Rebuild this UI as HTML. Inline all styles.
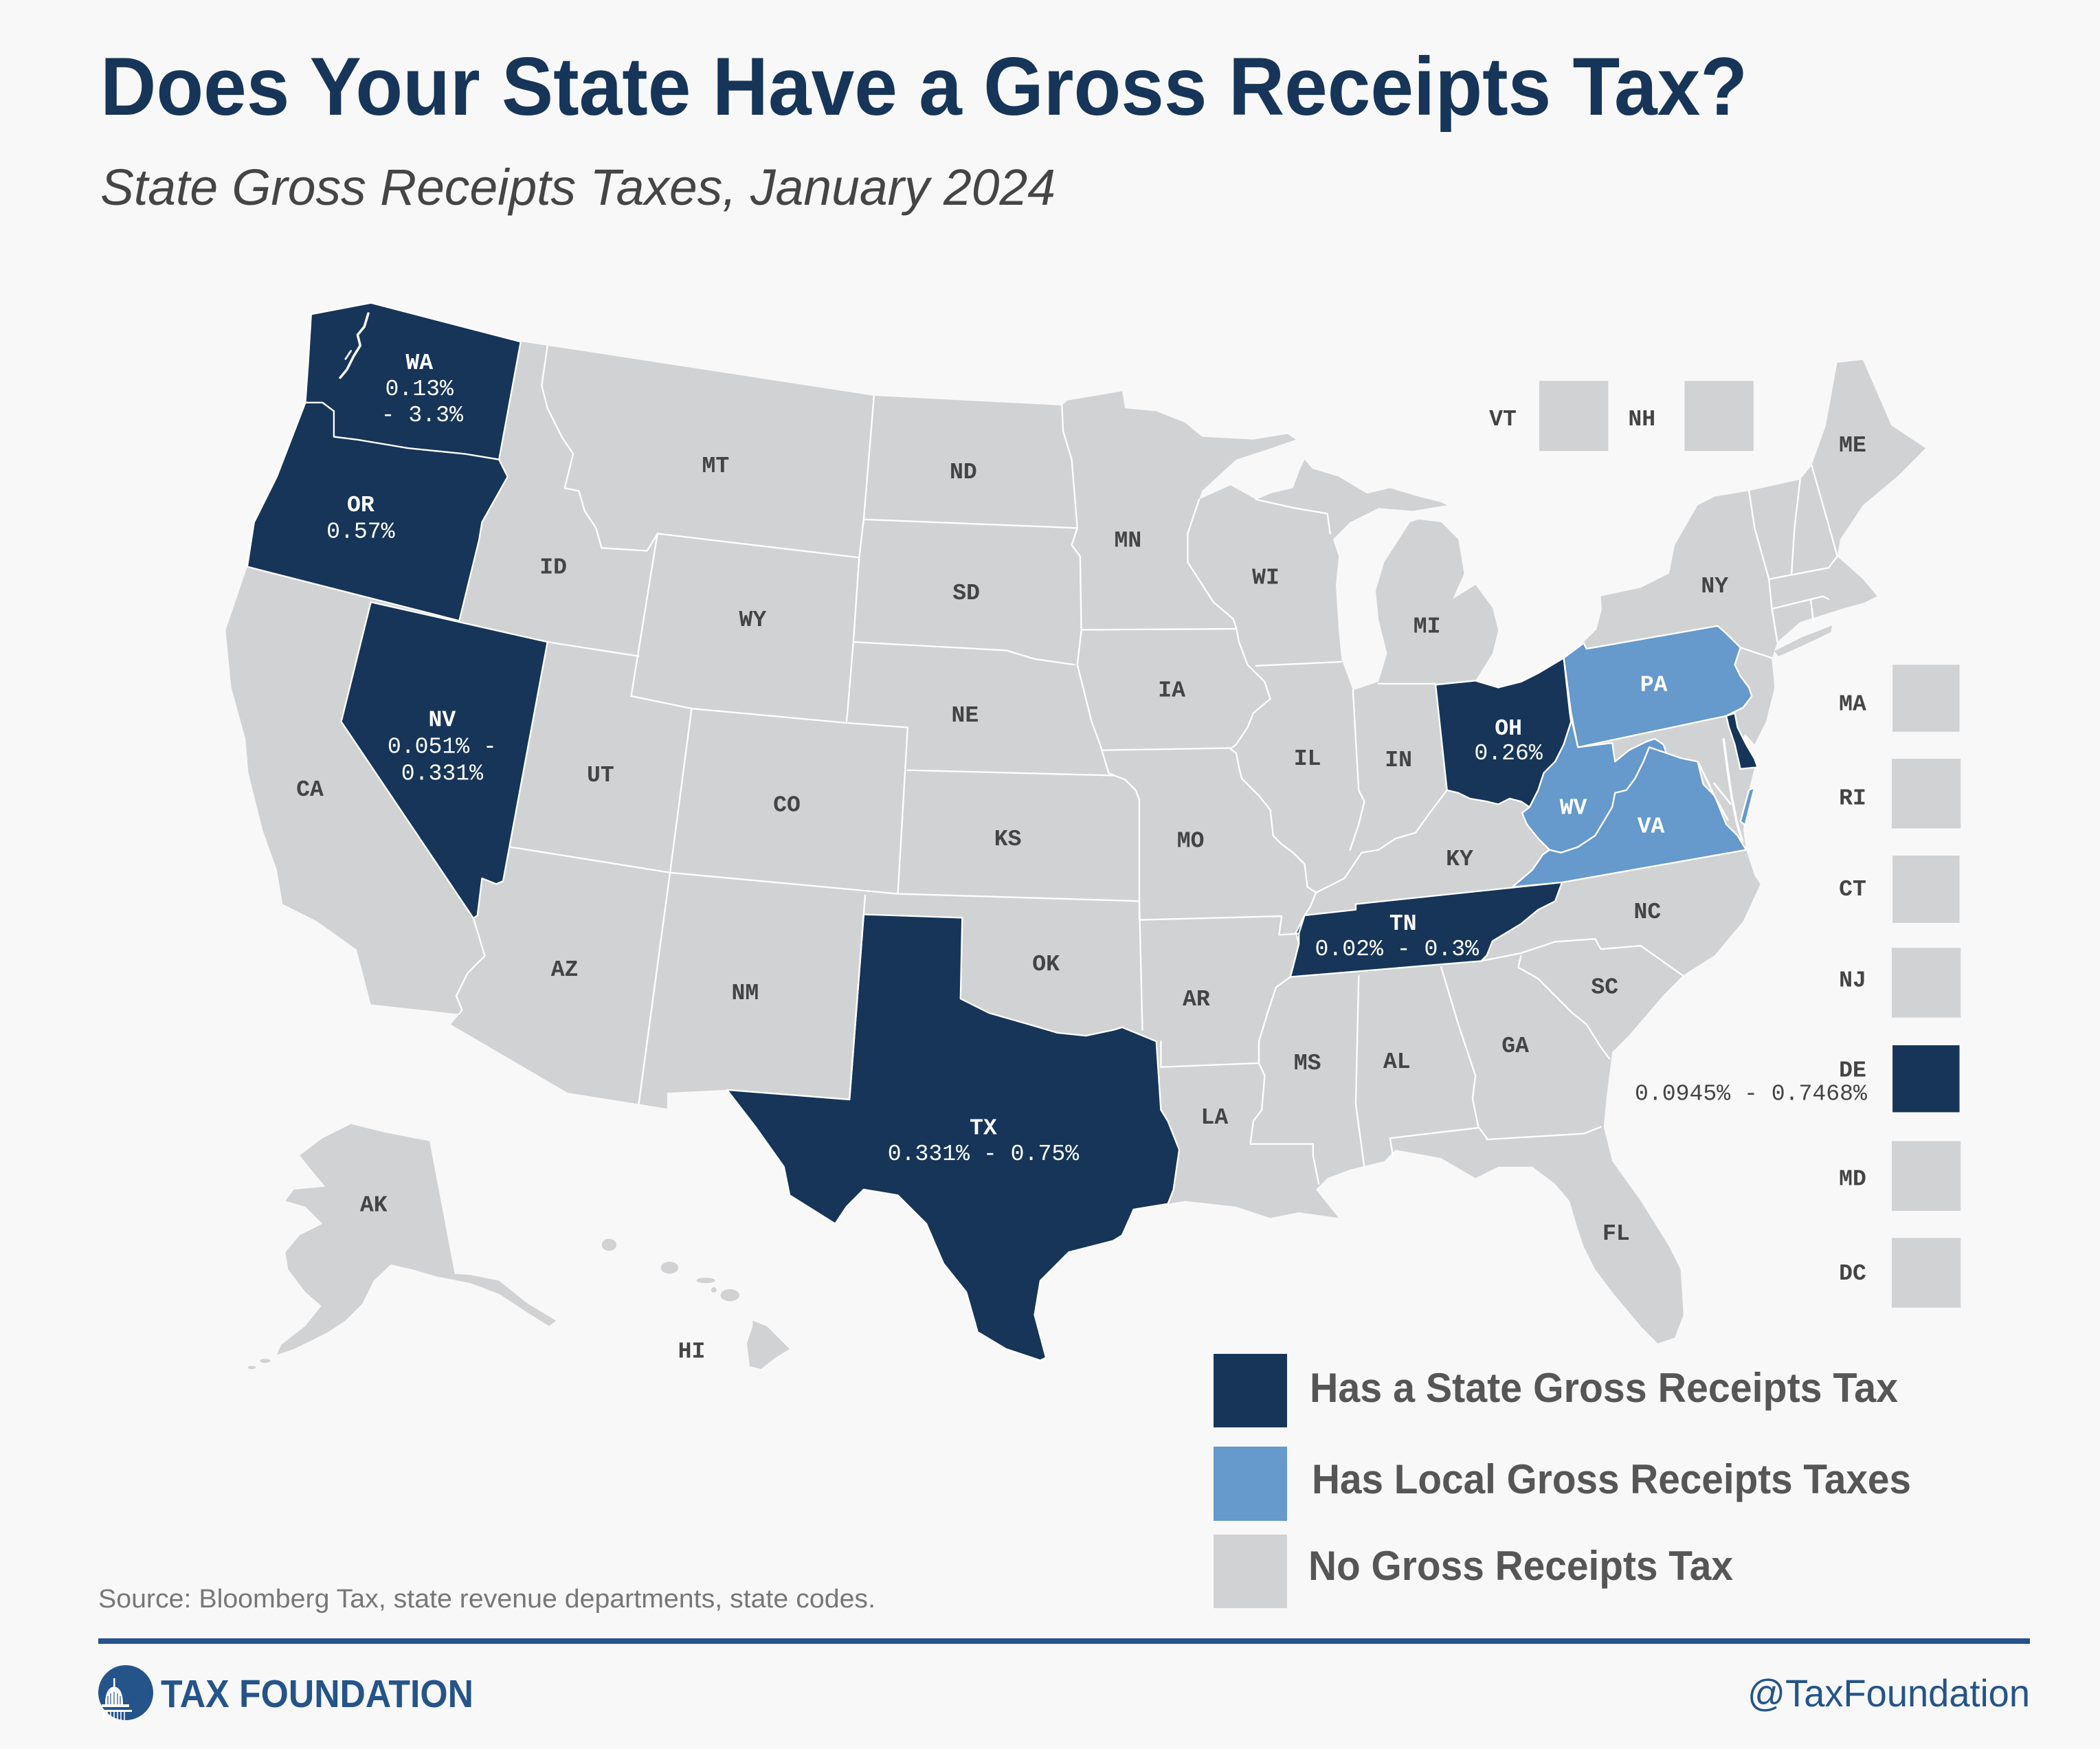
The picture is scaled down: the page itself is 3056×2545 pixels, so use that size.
<!DOCTYPE html>
<html>
<head>
<meta charset="utf-8">
<style>
html,body{margin:0;padding:0;background:#f8f8f8;}
svg{display:block;}
</style>
</head>
<body>
<svg width="3056" height="2545" viewBox="0 0 3056 2545" xmlns="http://www.w3.org/2000/svg">
<rect x="0" y="0" width="3056" height="2545" fill="#f8f8f8"/>

<text x="146" y="167" font-family="Liberation Sans, Arial, sans-serif" font-weight="bold" font-size="120" fill="#163559" textLength="2397" lengthAdjust="spacingAndGlyphs">Does Your State Have a Gross Receipts Tax?</text>
<text x="146" y="298" font-family="Liberation Sans, Arial, sans-serif" font-style="italic" font-size="74" fill="#454545" textLength="1390" lengthAdjust="spacingAndGlyphs">State Gross Receipts Taxes, January 2024</text>

<g transform="scale(1.94898)">
  <path fill="#d1d2d4" d="M232.3,234.6 L276.9,226.1 L388.8,255.1 L408.8,258 L652.6,295.5 L792.9,302.7 L797,299 L837.9,292.1 L840,304.8 L863.4,307 L884.7,315.5 L897.5,326.1 L935.8,328.2 L961.3,324 L967.7,328.2 L945,336 L923,343.1 L897.5,366.5 L895.3,372.9 L918.8,362.3 L937.9,372.9 L950,368 L965.5,364.4 L970,352 L974.1,343.1 L980,350 L999.6,355.9 L1020.8,368.6 L1037.9,364.4 L1059.1,370.8 L1076.1,375 L1080.4,377.2 L1054.9,381.4 L1029.3,379.3 L1008.1,389.9 L995.3,402.7 L999.6,415.4 L997.4,436.7 L999.6,470.7 L1001.7,492 L1010.2,515.4 L1029.3,509 L1035.7,487.8 L1029.3,462.2 L1027.2,441 L1033.6,419.7 L1052.8,389.9 L1059.1,387.8 L1076.1,389.9 L1088.9,402.7 L1093.2,428.2 L1084.7,447.3 L1101.7,436.7 L1114.4,453.7 L1118.7,470.7 L1114.4,487.8 L1103.8,504.8 L1101.7,508.2 L1118.7,513.3 L1135.7,509 L1148.5,502.6 L1166.3,492 L1182.5,479.3 L1192,470 L1196,455 L1195.3,445.2 L1225.1,438.8 L1246.3,428.2 L1250.5,407 L1267.6,377.2 L1280.3,370.8 L1305.9,366.5 L1344.1,358 L1352.7,347.4 L1363.3,317.6 L1371.8,270.8 L1390.9,268.7 L1412.2,317.6 L1437.7,334.6 L1416.5,355.9 L1391,377.2 L1374,402.7 L1371.8,415.4 L1391,432.4 L1401.6,445.2 L1392,450 L1378.2,453.7 L1344.1,464.4 L1327.1,479.3 L1322.9,492 L1325,513.3 L1318.6,538.8 L1310.1,555.8 L1303,548 L1299,556 L1310.1,572.8 L1305.9,589.9 L1301.6,619.6 L1303.8,634.5 L1310.1,653.7 L1314.4,660 L1301.6,687.7 L1280.3,713.2 L1256.9,728.1 L1242,743 L1216.5,772.8 L1203.8,785.5 L1199.5,819.6 L1197.4,841.3 L1203.8,866.9 L1225.1,896.6 L1246.3,930.7 L1254.8,947.7 L1257,981.7 L1250.5,998.7 L1237.8,1003 L1225.1,990.2 L1203.8,964.7 L1191,947.7 L1182.5,930.7 L1178.2,917.9 L1171.9,896.6 L1161.2,883.9 L1144.2,871.1 L1118.7,871.1 L1101.7,879.6 L1076.1,864.7 L1042,858.4 L1033.6,866.9 L1008.1,873.2 L991.1,879.6 L982.6,888.1 L999.6,909.4 L969.8,905.1 L948.5,909.4 L923,900.9 L884.7,896.6 L872,898.8 L846.4,903 L837.9,922.2 L831.2,926.4 L798,934.9 L776.8,956.2 L772.5,981.7 L781,1013.6 L776.8,1015.7 L751.2,1007.2 L730,994.5 L721.5,964.7 L704.5,943.4 L691.7,913.7 L670.4,892.4 L644.9,888.1 L632.1,900.9 L623.6,913.7 L589.6,892.4 L585.3,871.1 L564.1,841.3 L542.8,813.7 L498.1,815.8 L498.1,827.7 L476.9,824.3 L423.7,815.8 L336.5,764.8 L342.9,757.1 L276.9,749.9 L266.3,709 L236.5,687.7 L211,675 L206.7,649.4 L196.1,619.6 L185.5,577.1 L183.3,551.6 L172.7,513.3 L168.5,470.7 L184.6,423.1 L189.7,390 L206.7,355.9 L228,302.7 L230.1,270.8 Z"/>
  <path fill="#d1d2d4" d="M1325,486 L1345,476 L1368,467 L1367,472 L1346,482 L1328,490 Z"/>

  <path fill="#d1d2d4" d="M223.8,862.6 L240.8,849.8 L262.1,839.2 L287.5,845.6 L320.7,852 L339.5,951.1 L351.4,951.9 L372.6,956.2 L393.9,973.2 L415.2,986 L410,990 L393.9,980 L372.6,966 L351.4,958 L325.9,953 L308.8,948 L291.8,944 L279,956.2 L270.6,973.2 L257.8,986 L245,994.5 L232.3,1000.9 L219.5,1007.2 L206.7,1011.5 L210,1004 L228,990 L240,975 L228,964.7 L215.2,947.7 L213.1,934.9 L223.8,922.2 L240.8,913.7 L228,900.9 L213.1,896.6 L219.5,888.1 L242.9,886 L232.3,873.2 Z"/>
  <ellipse cx="198" cy="1016" rx="4" ry="1.5" fill="#d1d2d4"/>
  <ellipse cx="188" cy="1021" rx="3" ry="1.2" fill="#d1d2d4"/>
  <ellipse cx="454.8" cy="929.4" rx="5.5" ry="4.5" fill="#d1d2d4"/>
  <ellipse cx="500" cy="946.5" rx="6.5" ry="4.5" fill="#d1d2d4"/>
  <ellipse cx="527" cy="956" rx="7" ry="2" fill="#d1d2d4"/>
  <ellipse cx="533" cy="963" rx="2" ry="2" fill="#d1d2d4"/>
  <ellipse cx="545" cy="967" rx="7" ry="4.5" fill="#d1d2d4"/>
  <path fill="#d1d2d4" d="M562,986 L572.6,990.2 L589.6,1007.2 L579,1013.6 L568.3,1022.1 L559.8,1020 L557.7,1003 L562,990.2 Z"/>

  <g stroke="#ffffff" stroke-width="1.2" stroke-linejoin="round">
    <path fill="#163559" d="M232.3,234.6 L276.9,226.1 L388.8,255.1 L372.6,343.1 L347.1,338.9 L304.6,334.6 L266.3,328.2 L249.3,326.1 L249.3,307 L240.8,300.6 L228,300.6 L230.1,270.8 Z"/>
    <path fill="#163559" d="M228,300.6 L240.8,300.6 L249.3,307 L249.3,326.1 L266.3,328.2 L304.6,334.6 L347.1,338.9 L372.6,343.1 L379,355.9 L359.9,389.9 L357.8,402.7 L342.9,463.5 L184.6,423.1 L189.7,390 L206.7,355.9 Z"/>
    <path fill="#163559" d="M276.9,449.5 L408.8,479.3 L375.6,657.9 L370.5,660 L359.9,655.8 L356.5,683.4 L353.5,685.6 L254.8,538.8 Z"/>
    <path fill="#163559" d="M644.9,682.7 L718.5,685.2 L717.2,745.6 L738.5,756.3 L768.3,764.8 L789.6,771.1 L810.8,773.3 L831.2,769 L837.9,767 L863.4,777.5 L866.8,828.6 L872,837.1 L880.5,858.4 L876.2,888.1 L872,898.8 L846.4,903 L837.9,922.2 L831.2,926.4 L798,934.9 L776.8,956.2 L772.5,981.7 L781,1013.6 L776.8,1015.7 L751.2,1007.2 L730,994.5 L721.5,964.7 L704.5,943.4 L691.7,913.7 L670.4,892.4 L644.9,888.1 L632.1,900.9 L623.6,913.7 L589.6,892.4 L585.3,871.1 L564.1,841.3 L542.8,813.7 L634.3,820.9 Z"/>
    <path fill="#163559" d="M1071.9,511.2 L1101.7,508.2 L1118.7,513.3 L1135.7,509 L1148.5,502.6 L1167.6,491.2 L1171.9,530.3 L1173.1,538.8 L1167.6,555.8 L1161.2,568.6 L1152.7,577.1 L1148.5,589.9 L1142.1,602.6 L1135.7,598.4 L1127.2,596.2 L1118.7,600.5 L1110.2,598.4 L1097.4,596.2 L1088.9,592 L1080.4,589.9 Z"/>
    <path fill="#6699cc" d="M1167.6,491.2 L1182.5,480.1 L1184.6,484.4 L1282.5,467.3 L1288.9,472.9 L1299.5,483.5 L1295.3,496.3 L1299.5,504.8 L1305.9,513.3 L1308,519.7 L1301.6,528.2 L1288.9,534.5 L1178.2,557.9 L1173.1,532.4 Z"/>
    <path fill="#6699cc" d="M1171.9,530.3 L1178.2,557.9 L1203.8,554.6 L1205.9,568.6 L1216.5,560 L1229.3,553.7 L1235.6,551.6 L1242,555.8 L1244.2,562.2 L1231.4,557.9 L1227.1,568.6 L1220.8,581.3 L1214.4,589.9 L1205.9,592 L1203.8,602.6 L1197.4,613.3 L1191,623.9 L1178.2,632.4 L1165.5,636.6 L1157,634.5 L1148.5,626 L1140,615.4 L1136.5,606.9 L1142.1,602.6 L1148.5,589.9 L1152.7,577.1 L1161.2,568.6 L1167.6,555.8 L1173.1,538.8 Z"/>
    <path fill="#6699cc" d="M1129.3,662.2 L1144.2,649.4 L1152,638 L1157,634.5 L1165.5,636.6 L1178.2,632.4 L1191,623.9 L1197.4,613.3 L1203.8,602.6 L1205.9,592 L1214.4,589.9 L1220.8,581.3 L1227.1,568.6 L1231.4,557.9 L1244.2,562.2 L1255,566 L1267.6,568.6 L1271.8,585.6 L1280.3,594.1 L1288.9,615.4 L1297.4,623.9 L1303.8,634.5 L1166.3,658.8 Z"/>
    <path fill="#6699cc" d="M1305.9,589.9 L1310,588 L1303,616 L1299.5,613.3 Z"/>
    <path fill="#163559" d="M1288.9,534.5 L1295.3,532.4 L1297.4,543.1 L1303.8,555.8 L1310.1,566.5 L1312.3,572.8 L1299.5,574.1 L1295.3,555.8 L1291,543.1 Z"/>
    <path fill="#163559" d="M974.1,683.4 L1012.3,679.2 L1012.3,675 L1166.3,658.8 L1161.2,672.8 L1148.5,679.2 L1135.7,689.8 L1125.1,696.2 L1114.4,702.6 L1110.2,713.2 L1105.9,717.5 L963.4,729.4 L965.5,721.7 L969.8,704.7 L967.7,696.2 Z"/>
  </g>

  <g fill="none" stroke="#ffffff" stroke-width="1.2" stroke-linejoin="round" stroke-linecap="round">
    <polyline points="408.8,258 404.5,287.8 408.8,304.8 419.4,326.1 428,338.9 421.6,364.4 432.2,366.5 436.5,381.4 445,394.2 449.2,409.1 483.2,411.2 490.9,398.4"/>
    <polyline points="490.9,398.4 471.3,519.7"/>
    <polyline points="408.8,479.3 476.9,489.9"/>
    <polyline points="490.9,398.4 641.5,416.3"/>
    <polyline points="652.6,295.5 644.9,387.8"/>
    <polyline points="644.9,387.8 804.4,394.2"/>
    <polyline points="644.9,387.8 641.5,416.3 637.2,479.3 632.1,539.7"/>
    <polyline points="471.3,519.7 516.4,529 632.1,539.7"/>
    <polyline points="637.2,479.3 751.3,485.6 772.5,492 802.3,496.3"/>
    <polyline points="516.4,529 500.3,651.5 476.9,824.3"/>
    <polyline points="381.2,632.4 500.3,651.5 670.4,667.3 850.7,672.8"/>
    <polyline points="632.1,539.7 677.7,543.1 670.4,667.3"/>
    <polyline points="677.7,575 832,579"/>
    <polyline points="646,668.5 644.9,682.7 634.3,820.9"/>
    <polyline points="353.5,685.6 362,713.7 349.2,726.5 340.7,743.5 345,754 342.9,757.1"/>
    <polyline points="792.9,302.7 793.8,321.9 800.2,343.1 802.3,368.6 804.4,394.2 800.2,407 806.5,415.4 807.4,470.7 804.4,496.3 808.7,513.3 815.1,538.8 821.4,555.8 827.8,577.1 832,579 840,582 848,590 850.7,597 850.7,686.8"/>
    <polyline points="807.4,470.2 923,469.5"/>
    <polyline points="824,560.1 918.7,558.5"/>
    <polyline points="923,468.6 925.1,479.3 931.5,496.3 944.3,509 948.5,521.8 935.8,532.4 931.5,543.1 923,555.8 918.7,559.2 923,562.2 925.1,572.8 927.2,581.3 940,594.1 948.5,604.7 950.6,623.9 957,630.3 965.5,636.6 974.1,645.2 976.2,662.2 982.6,666.4 978.3,677 974.1,683.4 969.8,697 969.8,704.7 965.5,721.7 963.4,729.4 952.8,737.1 946.4,756.3 940,777.5 940,793.7 944.3,803.1 942.1,828.6 935.8,837.1 933.6,854.1 980.4,854.1 980.4,862.6 984.7,883.9"/>
    <polyline points="850.7,686.8 957,684 955,698 969.8,697"/>
    <polyline points="850.7,672.8 853,769"/>
    <polyline points="866.8,777.5 866.8,796.7 940,793.7"/>
    <polyline points="937.9,497.1 1001.7,494.1"/>
    <polyline points="1010.2,515.4 1014.5,589.9 1018.7,598.4 1014.5,615.4 1008.1,634.5"/>
    <polyline points="1080.4,589.9 1067.6,606.9 1057,621.7 1042.1,626 1029.3,634.5 1016.6,636.6 1008.1,649.4 1003.8,655.8 991.1,662.2 982.6,666.4"/>
    <polyline points="1029.3,510.5 1071.9,510.5"/>
    <polyline points="895.3,372.9 886.8,398.4 886.8,419.7 906,449.5 920.9,462.2 923,468.6"/>
    <polyline points="937.9,372.9 965,379 991.1,383.5 993.2,398.4"/>
    <polyline points="1014.5,728.6 1012.3,824.3 1018.7,871.1"/>
    <polyline points="1076.1,722.2 1088.9,764.8 1101.7,803.1 1099.5,820.1 1103.8,841.3 1110.2,849.8"/>
    <polyline points="1040,862.6 1037.9,849.8 1103.8,842"/>
    <polyline points="1110.2,850.7 1182.5,846.4 1195.3,841.3"/>
    <polyline points="1135.7,713.7 1133.6,722.2 1148.5,730.7 1161.2,743.5 1174,756.3 1184.6,764.8 1195.3,781.8 1201.6,790.3"/>
    <polyline points="1105.9,717.5 1135.7,711.6 1161.2,703.1 1191,701 1195.3,708.6 1225.1,706.1 1256.9,728.6"/>
    <polyline points="1305.9,366.5 1310.1,394.2 1320.8,432.4 1322.9,453.7 1327.1,479.3"/>
    <polyline points="1344.1,358 1339.9,394.2 1337.7,428.2"/>
    <polyline points="1352.7,347.4 1369.6,407 1371.8,415.4"/>
    <polyline points="1320.8,432.4 1365.4,423.9 1371.8,415.4"/>
    <polyline points="1322.9,454.6 1361.1,445.2 1365.4,447.3"/>
    <polyline points="1352,448 1354,464"/>
    <polyline points="1299.5,483.5 1322.9,491.2"/>
    <polyline stroke-width="1.8" points="1287,552 1290,575 1293,595 1297,615 1301,628"/>
    <polyline stroke-width="1.4" points="1268,569 1280,594 1290,612"/>
    <polyline stroke-width="1.4" points="1280,585 1292,600"/>
    <polyline stroke-width="1.8" points="275,234 272,244 267,250 269,258 264,266 259,276 254,282"/>
    <polyline stroke-width="1.4" points="262,262 258,268"/>
  </g>

  <rect x="1149.3" y="284.4" width="51.5" height="52.3" fill="#d1d2d4"/>
  <rect x="1257.8" y="284.4" width="51.5" height="52.3" fill="#d1d2d4"/>
  <rect x="1413.1" y="496.3" width="50" height="50" fill="#d1d2d4"/>
  <rect x="1412.5" y="566.5" width="51.5" height="52" fill="#d1d2d4"/>
  <rect x="1413.1" y="638.8" width="50" height="50.2" fill="#d1d2d4"/>
  <rect x="1412.5" y="707.7" width="51.5" height="52" fill="#d1d2d4"/>
  <rect x="1413.1" y="780.4" width="50" height="50" fill="#163559"/>
  <rect x="1412.5" y="852" width="51.5" height="52" fill="#d1d2d4"/>
  <rect x="1412.5" y="924.3" width="51.5" height="52" fill="#d1d2d4"/>

  <g font-family="Liberation Mono, DejaVu Sans Mono, monospace" font-weight="bold" font-size="17" fill="#444444" text-anchor="middle">
    <text x="413.1" y="428.2">ID</text>
    <text x="534.3" y="352.5">MT</text>
    <text x="719.3" y="357.2">ND</text>
    <text x="721.5" y="447.4">SD</text>
    <text x="562" y="467.3">WY</text>
    <text x="720.6" y="538.8">NE</text>
    <text x="448.4" y="583.5">UT</text>
    <text x="231.4" y="594.1">CA</text>
    <text x="587.5" y="605.6">CO</text>
    <text x="752.5" y="631.1">KS</text>
    <text x="421.6" y="728.6">AZ</text>
    <text x="556.4" y="746.1">NM</text>
    <text x="781" y="724.4">OK</text>
    <text x="279" y="904.3">AK</text>
    <text x="516.4" y="1013.6">HI</text>
    <text x="842.2" y="408.2">MN</text>
    <text x="945.1" y="435.9">WI</text>
    <text x="1065.5" y="472.4">MI</text>
    <text x="874.9" y="520.1">IA</text>
    <text x="976.2" y="571.1">IL</text>
    <text x="1044.2" y="572">IN</text>
    <text x="1280.3" y="442.2">NY</text>
    <text x="1089.8" y="646">KY</text>
    <text x="889" y="632.4">MO</text>
    <text x="1230.1" y="685.6">NC</text>
    <text x="893.2" y="750.7">AR</text>
    <text x="1198.2" y="741.7">SC</text>
    <text x="976.2" y="798.3">MS</text>
    <text x="1043" y="797.4">AL</text>
    <text x="1131.4" y="785.5">GA</text>
    <text x="906.8" y="838.8">LA</text>
    <text x="1206.7" y="925.6">FL</text>
    <text x="1383.3" y="337.2">ME</text>
    <text x="1122.1" y="317.6">VT</text>
    <text x="1225.9" y="317.6">NH</text>
    <text x="1383.3" y="530.3">MA</text>
    <text x="1383.3" y="600.5">RI</text>
    <text x="1383.3" y="668.5">CT</text>
    <text x="1383.3" y="736.6">NJ</text>
    <text x="1383.3" y="803.8">DE</text>
    <text x="1383.3" y="884.7">MD</text>
    <text x="1383.3" y="955.3">DC</text>
  </g>
  <text x="1394" y="821.3" font-family="Liberation Mono, DejaVu Sans Mono, monospace" font-size="17" fill="#444444" text-anchor="end">0.0945% - 0.7468%</text>

  <g font-family="Liberation Mono, DejaVu Sans Mono, monospace" font-weight="bold" font-size="17" fill="#ffffff" text-anchor="middle">
    <text x="313.1" y="275.5">WA</text>
    <text x="269.3" y="381.8">OR</text>
    <text x="330.1" y="542.2">NV</text>
    <text x="734.2" y="846.9">TX</text>
    <text x="1126.3" y="548.6">OH</text>
    <text x="1047.6" y="694.1">TN</text>
    <text x="1234.8" y="515.8">PA</text>
    <text x="1174.8" y="607.7">WV</text>
    <text x="1232.7" y="621.7">VA</text>
  </g>
  <g font-family="Liberation Mono, DejaVu Sans Mono, monospace" font-size="17" fill="#ffffff" text-anchor="middle">
    <text x="313.1" y="295.1">0.13%</text>
    <text x="315.2" y="314.6">- 3.3%</text>
    <text x="269.3" y="401.4">0.57%</text>
    <text x="330.1" y="562.2">0.051% -</text>
    <text x="330.1" y="582.2">0.331%</text>
    <text x="734.2" y="866">0.331% - 0.75%</text>
    <text x="1126.3" y="566.9">0.26%</text>
    <text x="1043" y="713.2">0.02% - 0.3%</text>
  </g>
</g>

<rect x="1766" y="1970" width="107" height="107" fill="#163559"/>
<rect x="1766" y="2105" width="107" height="108" fill="#6699cc"/>
<rect x="1766" y="2233" width="107" height="107" fill="#d1d2d4"/>
<g font-family="Liberation Sans, Arial, sans-serif" font-weight="bold" font-size="60" fill="#565656">
  <text x="1906" y="2040" textLength="856" lengthAdjust="spacingAndGlyphs">Has a State Gross Receipts Tax</text>
  <text x="1909" y="2173" textLength="872" lengthAdjust="spacingAndGlyphs">Has Local Gross Receipts Taxes</text>
  <text x="1904" y="2299" textLength="618" lengthAdjust="spacingAndGlyphs">No Gross Receipts Tax</text>
</g>

<text x="143" y="2339" font-family="Liberation Sans, Arial, sans-serif" font-size="38" fill="#777777" textLength="1131" lengthAdjust="spacingAndGlyphs">Source: Bloomberg Tax, state revenue departments, state codes.</text>
<rect x="143" y="2384" width="2811" height="8" fill="#24548a"/>

<circle cx="183" cy="2463" r="40" fill="#24548a"/>
<g fill="#ffffff">
  <rect x="165" y="2442" width="2.5" height="12"/>
  <path d="M153,2480 Q153,2456 166,2454 Q179,2456 179,2480 Z"/>
  <rect x="148" y="2480" width="40" height="4"/>
  <rect x="146" y="2488" width="46" height="3"/>
</g>
<g stroke="#24548a" stroke-width="1.2">
  <line x1="157" y1="2468" x2="157" y2="2480"/>
  <line x1="161" y1="2464" x2="161" y2="2480"/>
  <line x1="166" y1="2462" x2="166" y2="2480"/>
  <line x1="171" y1="2464" x2="171" y2="2480"/>
  <line x1="175" y1="2468" x2="175" y2="2480"/>
</g>
<g stroke="#ffffff" stroke-width="1.6">
  <line x1="151" y1="2491" x2="151" y2="2503"/>
  <line x1="156" y1="2491" x2="156" y2="2503"/>
  <line x1="161" y1="2491" x2="161" y2="2503"/>
  <line x1="166" y1="2491" x2="166" y2="2503"/>
  <line x1="171" y1="2491" x2="171" y2="2503"/>
  <line x1="176" y1="2491" x2="176" y2="2503"/>
  <line x1="181" y1="2491" x2="181" y2="2503"/>
</g>
<text x="234" y="2484" font-family="Liberation Sans, Arial, sans-serif" font-weight="bold" font-size="57" fill="#24548a" textLength="455" lengthAdjust="spacingAndGlyphs">TAX FOUNDATION</text>
<text x="2543" y="2483" font-family="Liberation Sans, Arial, sans-serif" font-size="56" fill="#24548a" textLength="411" lengthAdjust="spacingAndGlyphs">@TaxFoundation</text>
</svg>
</body>
</html>
